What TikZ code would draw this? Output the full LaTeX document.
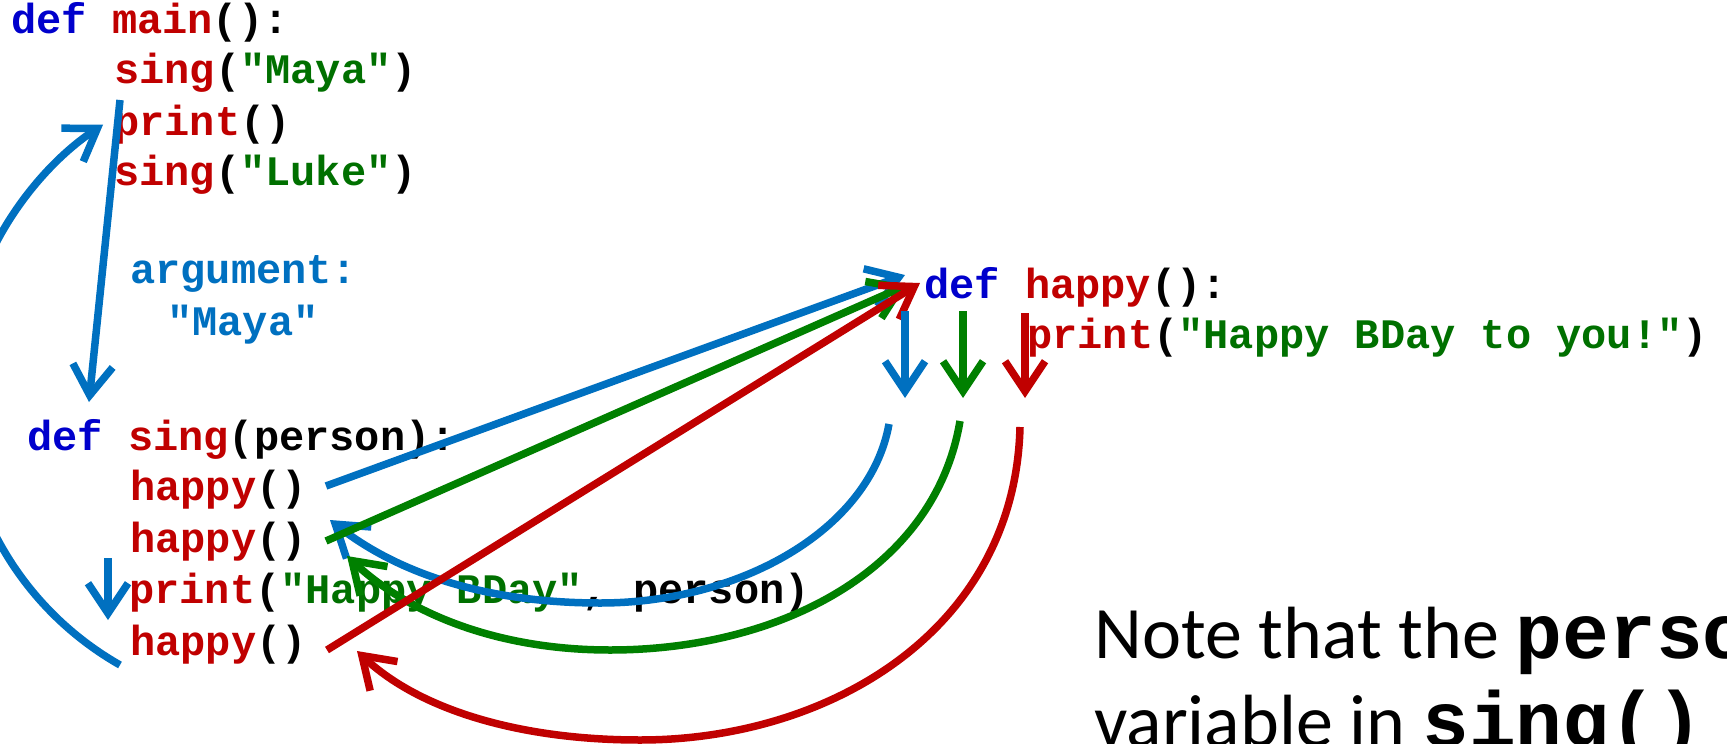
\documentclass[tikz,border=0pt]{standalone}
\usepackage{fontspec}
\setmainfont{Carlito}
\newfontfamily\codefont{Liberation Mono}
\usetikzlibrary{arrows.meta}
\definecolor{kwblue}{RGB}{0,0,204}
\definecolor{fnred}{RGB}{192,0,0}
\definecolor{strgreen}{RGB}{0,112,0}
\definecolor{arrblue}{RGB}{0,112,192}
\definecolor{arrgreen}{RGB}{0,128,0}
\definecolor{arrred}{RGB}{192,0,0}
\newcommand\ckw[1]{\textcolor{kwblue}{#1}}
\newcommand\cfn[1]{\textcolor{fnred}{#1}}
\newcommand\cstr[1]{\textcolor{strgreen}{#1}}
\tikzset{
  codeline/.style={anchor=base west, inner sep=0pt, text=black,
    font=\codefont\bfseries\fontsize{42}{50}\selectfont},
  notetext/.style={anchor=base west, inner sep=0pt, text=black,
    font=\fontsize{74}{88}\selectfont},
  flow/.style={line width=7.5pt, -{Straight Barb[length=30pt,width=40pt]}},
  flowblue/.style={flow, draw=arrblue},
  flowgreen/.style={flow, draw=arrgreen},
  flowred/.style={flow, draw=arrred},
}
\begin{document}
\begin{tikzpicture}[x=1pt,y=-1pt]
\useasboundingbox (0,0) rectangle (1727,744);
\clip (0,0) rectangle (1727,744);
% main()
\node[codeline] (mainDef) at (11,33) {\ckw{def} \cfn{main}():};
\node[codeline] (singMaya) at (114,83) {\cfn{sing}(\cstr{"Maya"})};
\node[codeline] (printE) at (114,135) {\cfn{print}()};
\node[codeline] (singLuke) at (114,185) {\cfn{sing}(\cstr{"Luke"})};
\node[codeline, text=arrblue] (argLbl) at (130,283) {argument:};
\node[codeline, text=arrblue] (argVal) at (167,335) {"Maya"};
% sing()
\node[codeline] (singDef) at (27,450) {\ckw{def} \cfn{sing}(person):};
\node[codeline] (happyA) at (130,500) {\cfn{happy}()};
\node[codeline] (happyB) at (130,552) {\cfn{happy}()};
\node[codeline] (printB) at (129,603) {\cfn{print}(\cstr{"Happy BDay"}, person)};
\node[codeline] (happyC) at (130,655) {\cfn{happy}()};
% happy()
\node[codeline] (happyDef) at (924,298) {\ckw{def} \cfn{happy}():};
\node[codeline] (printH) at (1027,348) {\cfn{print}(\cstr{"Happy BDay to you!"})};
% note
\node[notetext] (note1) at (1094,658) {Note that the {\codefont\bfseries\fontsize{78}{88}\selectfont person}};
\node[notetext] (note2) at (1094,746) {variable in {\codefont\bfseries\fontsize{78}{88}\selectfont sing()}};

% connector end points
\coordinate (callS) at (120,100);
\coordinate (callE) at (89,402);
\coordinate (retS) at (120,665);
\coordinate (stepS) at (108,558);
\coordinate (stepE) at (108,620);
\coordinate (hAs) at (326,486);
\coordinate (hAe) at (905,275);
\coordinate (hBs) at (326,541);
\coordinate (hBe) at (907,285);
\coordinate (hCs) at (327,650);
\coordinate (hCe) at (920,283);
\coordinate (dBs) at (905,311);
\coordinate (dBe) at (905,398);
\coordinate (dGs) at (963,311);
\coordinate (dGe) at (963,398);
\coordinate (dRs) at (1025,313);
\coordinate (dRe) at (1025,398);
\coordinate (rBs) at (889,424);
\coordinate (rBm) at (600,603);
\coordinate (rBe) at (330,520);
\coordinate (rGs) at (960,421);
\coordinate (rGm) at (610,650);
\coordinate (rGe) at (347,556);
\coordinate (rRs) at (1020,427);
\coordinate (rRm) at (640,740);
\coordinate (rRe) at (357,651);

% return arcs
\draw[flowblue] (rBs) .. controls (870,530) and (740,603) .. (rBm) .. controls (490,603) and (400,575) .. (rBe);
\draw[flowgreen] (rGs) .. controls (935,570) and (780,650) .. (rGm) .. controls (500,650) and (410,615) .. (rGe);
\draw[flowred] (rRs) .. controls (1015,630) and (830,740) .. (rRm) .. controls (520,740) and (420,710) .. (rRe);
% main flow
\draw[flowblue] (callS) -- (callE);
\draw[flowblue] (retS) arc[start angle=119.7, end angle=236.7, radius=317];
\draw[flowblue] (stepS) -- (stepE);
% calls to happy()
\draw[flowblue] (hAs) -- (hAe);
\draw[flowgreen] (hBs) -- (hBe);
\draw[flowred] (hCs) -- (hCe);
% through happy()
\draw[flowblue] (dBs) -- (dBe);
\draw[flowgreen] (dGs) -- (dGe);
\draw[flowred] (dRs) -- (dRe);
\end{tikzpicture}
\end{document}
